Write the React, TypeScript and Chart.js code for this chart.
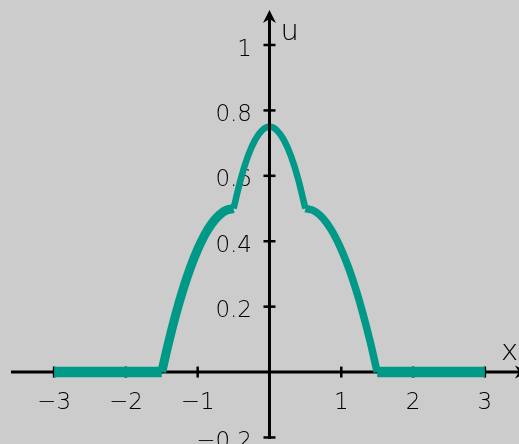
import React, { useEffect, useRef } from "react";
import { Chart, registerables } from "chart.js";

Chart.register(...registerables);

// Piecewise profile u(x): flat zero outside [-1.5, 1.5], two shoulders and a cap.
const flatLeftX = [-3, -1.5];
const flatLeftU = [0, 0];
const riseX = [-1.5, -1.4, -1.3, -1.2, -1.1, -1.0, -0.9, -0.8, -0.7, -0.6, -0.5];
const riseU = [0, 0.095, 0.18, 0.255, 0.32, 0.375, 0.42, 0.455, 0.48, 0.495, 0.5];
const capX = [-0.5, -0.4, -0.3, -0.2, -0.1, 0, 0.1, 0.2, 0.3, 0.4, 0.5];
const capU = [0.5, 0.59, 0.66, 0.71, 0.74, 0.75, 0.74, 0.71, 0.66, 0.59, 0.5];
const fallX = [0.5, 0.6, 0.7, 0.8, 0.9, 1.0, 1.1, 1.2, 1.3, 1.4, 1.5];
const fallU = [0.5, 0.495, 0.48, 0.455, 0.42, 0.375, 0.32, 0.255, 0.18, 0.095, 0];
const flatRightX = [1.5, 3];
const flatRightU = [0, 0];

const xTicks = [-3, -2, -1, 1, 2, 3];
const xTickLabels = ["\u22123", "\u22122", "\u22121", "1", "2", "3"];
const yTicks = [-0.2, 0.2, 0.4, 0.6, 0.8, 1];
const yTickLabels = ["\u22120.2", "0.2", "0.4", "0.6", "0.8", "1"];

const xAxisLabel = "x";
const yAxisLabel = "u";

const X_MIN = -3.753;
const X_MAX = 3.475;
const Y_MIN = -0.22;
const Y_MAX = 1.1376;
const X_AXIS_START = -3.6;
const X_ARROW_TIP = 3.6;
const Y_ARROW_TIP = 1.107;

const BG = "#cccccc";
const TEAL = "#009988";
const INK = "#000000";
const FONT = "200 23px 'DejaVu Sans', sans-serif";
const LABEL_FONT = "200 29px 'DejaVu Sans', sans-serif";

const pts = (xs: number[], us: number[]) => xs.map((x, i) => ({ x, y: us[i] }));

function arrowHead(ctx: CanvasRenderingContext2D, tx: number, ty: number, dx: number, dy: number) {
  // dx, dy: unit direction of the arrow
  const len = 13;
  const half = 6.5;
  const notch = 4;
  const nx = -dy;
  const ny = dx;
  ctx.beginPath();
  ctx.moveTo(tx, ty);
  ctx.lineTo(tx - dx * len + nx * half, ty - dy * len + ny * half);
  ctx.lineTo(tx - dx * (len - notch), ty - dy * (len - notch));
  ctx.lineTo(tx - dx * len - nx * half, ty - dy * len - ny * half);
  ctx.closePath();
  ctx.fill();
}

const axesPlugin = {
  id: "crossAxes",
  beforeDraw(chart: any) {
    const { ctx, width, height } = chart;
    ctx.save();
    ctx.fillStyle = BG;
    ctx.fillRect(0, 0, width, height);
    ctx.restore();
  },
  beforeDatasetsDraw(chart: any) {
    const { ctx } = chart;
    const xs = chart.scales.x;
    const ys = chart.scales.y;
    const y0 = ys.getPixelForValue(0);
    const x0 = xs.getPixelForValue(0);
    ctx.save();
    ctx.strokeStyle = "#000";
    ctx.fillStyle = "#000";
    ctx.lineWidth = 3;
    ctx.beginPath();
    ctx.moveTo(xs.getPixelForValue(X_AXIS_START), y0);
    ctx.lineTo(xs.getPixelForValue(X_ARROW_TIP) - 6, y0);
    ctx.stroke();
    arrowHead(ctx, xs.getPixelForValue(X_ARROW_TIP), y0, 1, 0);

    ctx.lineWidth = 2.5;
    xTicks.forEach((v) => {
      const px = xs.getPixelForValue(v);
      ctx.beginPath();
      ctx.moveTo(px, y0 - 5.5);
      ctx.lineTo(px, y0 + 5.5);
      ctx.stroke();
    });

    ctx.fillStyle = INK;
    ctx.font = FONT;
    ctx.textBaseline = "alphabetic";
    ctx.textAlign = "center";
    xTicks.forEach((v, i) => {
      ctx.fillText(xTickLabels[i], xs.getPixelForValue(v), y0 + 36.5);
    });
    ctx.textAlign = "right";
    yTicks.forEach((v, i) => {
      ctx.fillText(yTickLabels[i], x0 - 17.5, ys.getPixelForValue(v) + 10.5);
    });

    ctx.font = LABEL_FONT;
    ctx.textAlign = "left";
    ctx.fillText(xAxisLabel, 501, y0 - 12);
    ctx.fillText(yAxisLabel, x0 + 11, 39.5);
    ctx.restore();
  },
  afterDatasetsDraw(chart: any) {
    const { ctx } = chart;
    const xs = chart.scales.x;
    const ys = chart.scales.y;
    const x0 = xs.getPixelForValue(0);
    ctx.save();
    ctx.strokeStyle = "#000";
    ctx.fillStyle = "#000";
    ctx.lineWidth = 3;
    ctx.beginPath();
    ctx.moveTo(x0, ys.getPixelForValue(yTicks[0]) + 1.5);
    ctx.lineTo(x0, ys.getPixelForValue(Y_ARROW_TIP) + 6);
    ctx.stroke();
    arrowHead(ctx, x0, ys.getPixelForValue(Y_ARROW_TIP), 0, -1);

    ctx.lineWidth = 2.5;
    yTicks.forEach((v) => {
      const py = ys.getPixelForValue(v);
      ctx.beginPath();
      ctx.moveTo(x0 - 6, py);
      ctx.lineTo(x0 + 6, py);
      ctx.stroke();
    });
    ctx.restore();
  },
};

function segment(data: { x: number; y: number }[], width: number) {
  return {
    data,
    borderColor: TEAL,
    borderWidth: width,
    borderCapStyle: "butt" as const,
    borderJoinStyle: "round" as const,
    pointRadius: 0,
    fill: false,
    cubicInterpolationMode: "monotone" as const,
  };
}

export default function App() {
  const canvasRef = useRef<HTMLCanvasElement | null>(null);

  useEffect(() => {
    document.body.style.margin = "0";
    document.body.style.background = BG;
    const canvas = canvasRef.current;
    if (!canvas) return;
    const chart = new Chart(canvas, {
      type: "line",
      data: {
        datasets: [
          segment(pts(flatLeftX, flatLeftU), 10.5),
          segment(pts(riseX, riseU), 9),
          segment(pts(capX, capU), 6.5),
          segment(pts(fallX, fallU), 7.5),
          segment(pts(flatRightX, flatRightU), 10.5),
        ],
      },
      options: {
        responsive: false,
        animation: false,
        devicePixelRatio: 1,
        layout: { padding: 0 },
        plugins: { legend: { display: false }, tooltip: { enabled: false } },
        scales: {
          x: { type: "linear", min: X_MIN, max: X_MAX, display: false },
          y: { type: "linear", min: Y_MIN, max: Y_MAX, display: false },
        },
      },
      plugins: [axesPlugin],
    });
    return () => chart.destroy();
  }, []);

  return (
    <div style={{ width: 519, height: 444 }}>
      <canvas ref={canvasRef} width={519} height={444} style={{ display: "block" }} />
    </div>
  );
}
